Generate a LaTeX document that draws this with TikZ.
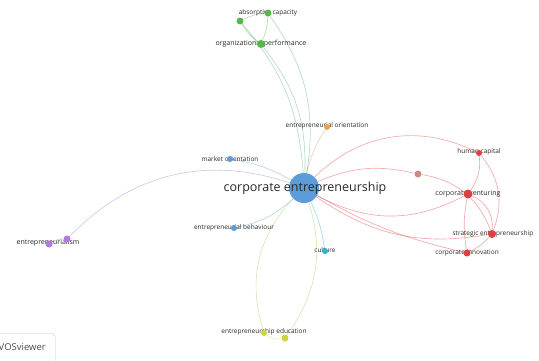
\documentclass[tikz,border=0pt]{standalone}
\usepackage{fontspec}
\setmainfont{Open Sans}
\usetikzlibrary{backgrounds}
\definecolor{vblue}{RGB}{92,156,216}
\definecolor{vgreen}{RGB}{86,184,72}
\definecolor{vred}{RGB}{222,64,66}
\definecolor{vorange}{RGB}{242,162,62}
\definecolor{vpurple}{RGB}{178,122,224}
\definecolor{vteal}{RGB}{38,182,196}
\definecolor{vyellow}{RGB}{204,214,52}
\definecolor{vbrown}{RGB}{200,140,128}
\definecolor{txt}{RGB}{40,40,40}

\begin{document}
\begin{tikzpicture}[x=1pt, y=-1pt,
    vnode/.style={circle, inner sep=0pt, minimum size=6pt, fill=#1},
    lbl/.style={font=\fontsize{6.5}{7}\selectfont, text=txt, inner sep=0pt},
    lnk/.style={line width=0.65pt, draw=#1, opacity=0.45}
]
\useasboundingbox (0,0) rectangle (539,360);

% labels first, dots on top
\node[lbl] (t-ac) at (268,13) {absorptive capacity};
\node[lbl, font=\fontsize{7}{8}\selectfont] (t-op) at (261,44) {organizational performance};
\node[lbl] (t-eo) at (327,126) {entrepreneurial orientation};
\node[lbl] (t-mo) at (230,159) {market orientation};
\node[lbl] (t-hc) at (479,152) {human capital};
\node[lbl, font=\fontsize{7}{8}\selectfont] (t-cv) at (468,194) {corporate venturing};
\node[lbl] (t-se) at (493,234) {strategic entrepreneurship};
\node[lbl] (t-ci) at (467,253) {corporate innovation};
\node[lbl, font=\fontsize{7}{8}\selectfont] (t-em) at (48,243) {entrepreneurialism};
\node[lbl] (t-eb) at (234,228) {entrepreneurial behaviour};
\node[lbl] (t-cu) at (325,250) {culture};
\node[lbl] (t-ee) at (264,332) {entrepreneurship education};

\node[vnode=vblue, minimum size=30pt] (ce) at (304,188) {};
\node[vnode=vgreen, minimum size=7pt] (ac) at (268,13) {};
\node[vnode=vgreen, minimum size=7pt] (ac2) at (240,21) {};
\node[vnode=vgreen, minimum size=8pt] (op) at (261,44) {};
\node[vnode=vorange] (eo) at (327,127) {};
\node[vnode=vblue] (mo) at (230,159) {};
\node[vnode=vred] (hc) at (479,153) {};
\node[vnode=vbrown, minimum size=7pt] (bd) at (418,174) {};
\node[vnode=vred, minimum size=9pt] (cv) at (468,194) {};
\node[vnode=vred, minimum size=8pt] (se) at (492,234) {};
\node[vnode=vred, minimum size=7pt] (ci) at (467,253) {};
\node[vnode=vpurple, minimum size=7pt] (em) at (49,244) {};
\node[vnode=vpurple, minimum size=7pt] (em2) at (67,239) {};
\node[vnode=vblue] (eb) at (234,228) {};
\node[vnode=vteal] (cu) at (325,251) {};
\node[vnode=vyellow] (ee) at (264,333) {};
\node[vnode=vyellow, minimum size=7pt] (ee2) at (285,338) {};

\node[lbl, font=\fontsize{12.5}{14}\selectfont] (t-ce) at (305,188) {corporate entrepreneurship};

% links
\begin{scope}[on background layer]
\draw[lnk=vgreen!60!vblue] (ce) to[bend right=22] (ac);
\draw[lnk=vgreen!60!vblue] (ce) to[bend right=18] (ac2);
\draw[lnk=vgreen!60!vblue] (ce) to[bend right=20] (op);
\draw[lnk=vgreen] (ac) to[bend right=10] (ac2);
\draw[lnk=vgreen] (ac) to[bend left=10] (op);
\draw[lnk=vgreen] (ac2) to[bend right=10] (op);
\draw[lnk=vorange!60!vblue] (ce) to[bend left=10] (eo);
\draw[lnk=vblue] (ce) to[bend right=10] (mo);
\draw[lnk=vpurple!50!vblue] (ce) to[bend right=32] (em2);
\draw[lnk=vpurple] (em) to[bend left=15] (em2);
\draw[lnk=vblue] (ce) to[bend left=15] (eb);
\draw[lnk=vteal] (ce) to[bend left=8] (cu);
\draw[lnk=vyellow!70!vblue] (ce) to[bend right=30] (ee);
\draw[lnk=vyellow!70!vblue] (ce) to[bend left=26] (ee2);
\draw[lnk=vyellow] (ee) to[bend right=25] (ee2);
\draw[lnk=vred] (ce) to[bend left=35] (hc);
\draw[lnk=vred] (ce) to[bend left=18] (bd);
\draw[lnk=vred] (ce) to[bend right=28] (cv);
\draw[lnk=vred] (ce) to[bend right=22] (se);
\draw[lnk=vred] (ce) to[bend right=8] (ci);
\draw[lnk=vred] (hc) to[bend left=20] (cv);
\draw[lnk=vred] (hc) to[bend left=30] (se);
\draw[lnk=vred] (cv) to[bend left=35] (se);
\draw[lnk=vred] (cv) to[bend right=10] (ci);
\draw[lnk=vred] (se) to[bend left=10] (ci);
\draw[lnk=vred] (bd) to[bend left=30] (se);
\end{scope}

% logo box
\node[draw=black!20, rounded corners=4pt, minimum width=75pt, minimum height=32pt,
      anchor=north west] (logo) at (-20,333) {};
\node[font=\fontsize{9.5}{10}\selectfont, text=black!70, anchor=east, inner sep=0pt] (logo-t) at (46,347) {VOSviewer};
\end{tikzpicture}
\end{document}
